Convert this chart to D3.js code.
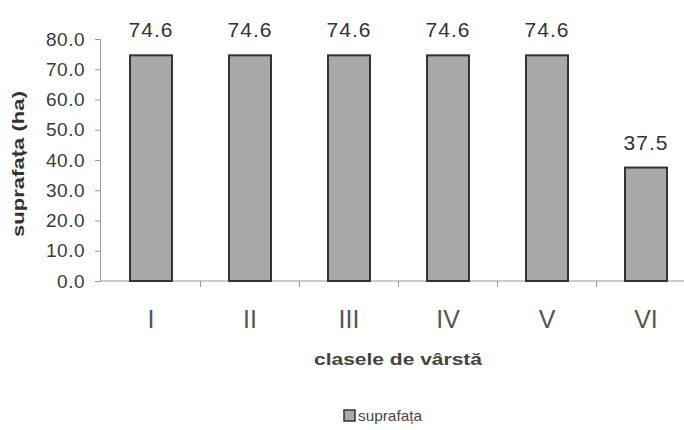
<!DOCTYPE html>
<html>
<head>
<meta charset="utf-8">
<script src="https://cdn.jsdelivr.net/npm/d3@7"></script>
<style>
  body { margin: 0; background: #fff; }
  text { font-family: "Liberation Sans", Arial, sans-serif; }
</style>
</head>
<body>
<div id="chart"></div>
<script>
// Data
const categories = ["I", "II", "III", "IV", "V", "VI"];
const values = [74.6, 74.6, 74.6, 74.6, 74.6, 37.5];
const yTicks = [0, 10, 20, 30, 40, 50, 60, 70, 80];
const seriesName = "suprafața";

const width = 684, height = 430;

let svg = d3.select("#chart")
    .append("svg")
    .attr("width", width)
    .attr("height", height);

// Scales
let x = d3.scaleBand()
    .domain(categories)
    .range([101.5, 695.5])
    .paddingInner(0.576)
    .paddingOuter(0.288);

let y = d3.scaleLinear()
    .domain([0, 80])
    .range([281, 39]);

// Y axis
let yAxis = svg.append("g")
    .attr("transform", "translate(100,0)")
    .call(d3.axisLeft(y).tickValues(yTicks).tickFormat(d3.format(".1f")).tickSize(5).tickPadding(10));
yAxis.select(".domain").attr("stroke", "#999");
yAxis.selectAll(".tick line").attr("stroke", "#999");
yAxis.selectAll(".tick text")
    .attr("fill", "#3a3a3a")
    .style("font-size", "19px")
    .style("letter-spacing", "0.5px");

// X axis line + boundary ticks
svg.append("line")
    .attr("x1", 100).attr("x2", width)
    .attr("y1", y(0)).attr("y2", y(0))
    .attr("stroke", "#999");

svg.selectAll(".bound")
    .data(categories.slice(1))
    .enter()
    .append("line")
    .attr("class", "bound")
    .attr("x1", d => x(d) - x.step() * x.paddingInner() / 2)
    .attr("x2", d => x(d) - x.step() * x.paddingInner() / 2)
    .attr("y1", y(0))
    .attr("y2", y(0) + 6)
    .attr("stroke", "#999");

// Category labels
svg.selectAll(".cat")
    .data(categories)
    .enter()
    .append("text")
    .attr("class", "cat")
    .attr("x", d => x(d) + x.bandwidth() / 2)
    .attr("y", 328)
    .attr("text-anchor", "middle")
    .attr("fill", "#555")
    .style("font-family", "'Liberation Sans Narrow', 'Liberation Sans', sans-serif")
    .style("font-size", "25px")
    .text(d => d);

// Bars
svg.selectAll("rect.bar")
    .data(values)
    .enter()
    .append("rect")
    .attr("class", "bar")
    .attr("x", (d, i) => x(categories[i]))
    .attr("y", d => y(d))
    .attr("width", x.bandwidth())
    .attr("height", d => y(0) - y(d))
    .attr("fill", "#a9a9a9")
    .attr("stroke", "#333")
    .attr("stroke-width", 2);

// Value labels
svg.selectAll(".val")
    .data(values)
    .enter()
    .append("text")
    .attr("class", "val")
    .attr("x", (d, i) => x(categories[i]) + x.bandwidth() / 2)
    .attr("y", d => y(d) - 18)
    .attr("text-anchor", "middle")
    .attr("fill", "#333")
    .style("font-size", "21px")
    .style("letter-spacing", "1px")
    .text(d => d.toFixed(1));

// Axis titles
svg.append("text")
    .attr("transform", "translate(24,164) rotate(-90)")
    .attr("text-anchor", "middle")
    .attr("fill", "#333")
    .attr("textLength", 146)
    .attr("lengthAdjust", "spacingAndGlyphs")
    .style("font-size", "17px")
    .style("font-weight", "bold")
    .text("suprafața (ha)");

svg.append("text")
    .attr("x", 398)
    .attr("y", 365)
    .attr("text-anchor", "middle")
    .attr("fill", "#444")
    .attr("textLength", 168)
    .attr("lengthAdjust", "spacingAndGlyphs")
    .style("font-size", "17px")
    .style("font-weight", "bold")
    .text("clasele de vârstă");

// Legend
let legend = svg.append("g").attr("transform", "translate(344,410)");
legend.append("rect")
    .attr("width", 11).attr("height", 11)
    .attr("fill", "#a9a9a9")
    .attr("stroke", "#333")
    .attr("stroke-width", 1.5);
legend.append("text")
    .attr("x", 14)
    .attr("y", 11)
    .attr("fill", "#444")
    .attr("textLength", 64)
    .attr("lengthAdjust", "spacingAndGlyphs")
    .style("font-size", "15px")
    .text(seriesName);
</script>
</body>
</html>
